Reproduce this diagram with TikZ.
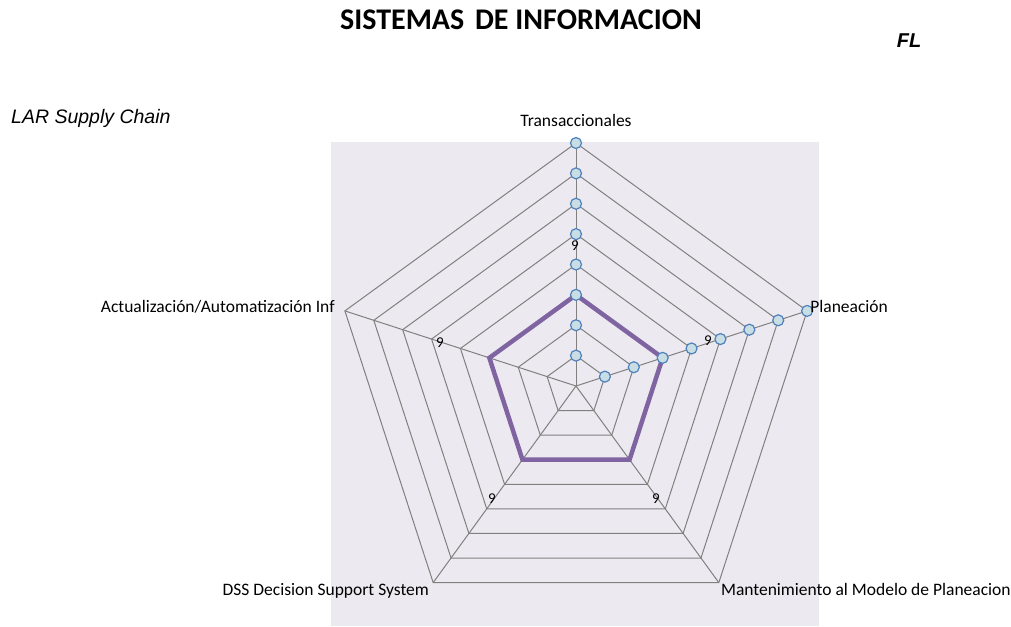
\documentclass[tikz,border=0pt]{standalone}
\usepackage{fontspec}
\setmainfont{Carlito}
\newfontfamily\arialfont{Liberation Sans}
\usetikzlibrary{positioning}

\definecolor{plotbg}{RGB}{236,234,240}
\definecolor{gridgray}{RGB}{128,128,128}
\definecolor{seriespurple}{RGB}{128,100,162}
\definecolor{markerblue}{RGB}{79,129,189}
\definecolor{markerfill}{RGB}{200,222,228}

\begin{document}
\begin{tikzpicture}[x=1pt,y=-1pt,
	gridline/.style={draw=gridgray,line width=1pt},
	series/.style={draw=seriespurple,line width=4.5pt,line join=miter},
	marker/.style={draw=markerblue,fill=markerfill,line width=1.2pt},
	axislabel/.style={inner sep=0pt,font=\fontsize{17.5}{20}\selectfont},
	ninelabel/.style={inner sep=0pt,font=\fontsize{15}{17}\selectfont}]

	\useasboundingbox (0,0) rectangle (1011,626);
	\fill[plotbg] (331,142) rectangle (819,626);

	\begin{scope}[shift={(576,386)}]
		\coordinate (Center)   at (0,0);
		\coordinate (TransMax) at (90:243pt);
		\coordinate (PlanMax)  at (18:243pt);
		\coordinate (MantMax)  at (-54:243pt);
		\coordinate (DssMax)   at (-126:243pt);
		\coordinate (ActMax)   at (162:243pt);

		\foreach \k [evaluate=\k as \r using \k*30.375] in {1,...,8}
			\draw[gridline] (90:\r pt) -- (18:\r pt) -- (-54:\r pt) -- (-126:\r pt) -- (162:\r pt) -- cycle;
		\draw[gridline] (Center) -- (TransMax);
		\draw[gridline] (Center) -- (PlanMax);
		\draw[gridline] (Center) -- (MantMax);
		\draw[gridline] (Center) -- (DssMax);
		\draw[gridline] (Center) -- (ActMax);

		\draw[series] (90:91.1pt) -- (18:91.1pt) -- (-54:91.1pt) -- (-126:91.1pt) -- (162:91.1pt) -- cycle;

		\foreach \k [evaluate=\k as \r using \k*30.375] in {1,...,8} {
			\draw[marker] (90:\r pt) circle (5.5pt);
			\draw[marker] (18:\r pt) circle (5.5pt);
		}
	\end{scope}

	\node[axislabel, above=16pt of TransMax] (Trans) {Transaccionales};
	\node[axislabel, right=3pt of PlanMax, yshift=4pt] (Plan) {Planeación};
	\node[axislabel, left=10pt of ActMax, yshift=4pt] (Act) {Actualización/Automatización Inf};
	\node[axislabel, below left=1pt and 4pt of DssMax] (Dss) {DSS Decision Support System};
	\node[axislabel, below right=1pt and 2pt of MantMax] (Mant) {Mantenimiento al Modelo de Planeacion};

	\node[ninelabel] (NineTrans) at (575,246) {9};
	\node[ninelabel] (NinePlan)  at (708,341) {9};
	\node[ninelabel] (NineAct)   at (440,343) {9};
	\node[ninelabel] (NineDss)   at (492,499) {9};
	\node[ninelabel] (NineMant)  at (656,499) {9};

	\node[font=\fontsize{30}{33}\selectfont\bfseries] (Title) at (521,20) {SISTEMAS\hspace{4pt} DE INFORMACION};
	\node[font=\arialfont\fontsize{20}{22}\selectfont\bfseries\itshape] (Fl) at (909,41) {FL};
	\node[anchor=west, inner sep=0pt, font=\arialfont\fontsize{19.5}{22}\selectfont\itshape] (Lar) at (11,118) {LAR Supply Chain};
\end{tikzpicture}
\end{document}
